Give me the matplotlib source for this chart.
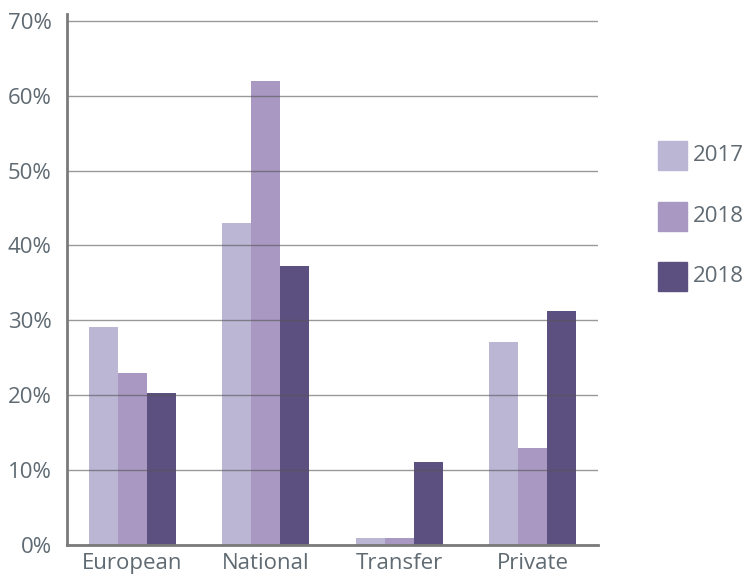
import numpy as np
import matplotlib
matplotlib.use('Agg')
import matplotlib.pyplot as plt
from matplotlib.patches import Rectangle

plt.rcParams['font.family'] = ['Open Sans', 'DejaVu Sans']

# data
categories = ['European', 'National', 'Transfer', 'Private']
series_labels = ['2017', '2018', '2018']
values_a = [29.1, 43.0, 0.9, 27.1]
values_b = [23.0, 62.0, 0.9, 13.0]
values_c = [20.3, 37.2, 11.1, 31.2]
y_ticks = [0, 10, 20, 30, 40, 50, 60, 70]

colors = ['#bcb6d5', '#a898c2', '#5c5080']
text_color = '#5f6a72'
line_color = '#7a7a7a'

fig = plt.figure(figsize=(7.47, 5.78), dpi=100)
ax = fig.add_axes([0.0897, 0.0571, 0.7108, 0.9187])

x = np.arange(len(categories))
w = 0.218
for i, vals in enumerate([values_a, values_b, values_c]):
    ax.bar(x + (i - 1) * w, vals, width=w, color=colors[i], zorder=2)

ax.set_xlim(-0.49, 3.49)
ax.set_ylim(0, 70.9)
ax.set_yticks(y_ticks)
ax.set_yticklabels(['%d%%' % t for t in y_ticks])
ax.set_xticks(x)
ax.set_xticklabels(categories)

ax.yaxis.grid(True, color='#555555', linewidth=1, alpha=0.6, zorder=3)
ax.set_axisbelow(False)
for s in ['top', 'right']:
    ax.spines[s].set_visible(False)
for s in ['left', 'bottom']:
    ax.spines[s].set_color(line_color)
    ax.spines[s].set_linewidth(2)
    ax.spines[s].set_zorder(4)
ax.tick_params(length=0, labelsize=16, colors=text_color)
ax.tick_params(axis='y', pad=11)
ax.tick_params(axis='x', pad=6)

# legend on the right
for i, lab in enumerate(series_labels):
    y0 = 1 - (141 + i * 60.5) / 578
    fig.patches.append(Rectangle((658 / 747, y0 - 29 / 578), 29 / 747, 29 / 578,
                                 transform=fig.transFigure, color=colors[i]))
    fig.text(693 / 747, y0 - 14.5 / 578, lab, fontsize=16, color=text_color, va='center', ha='left')

fig.savefig('out.png', dpi=100)
